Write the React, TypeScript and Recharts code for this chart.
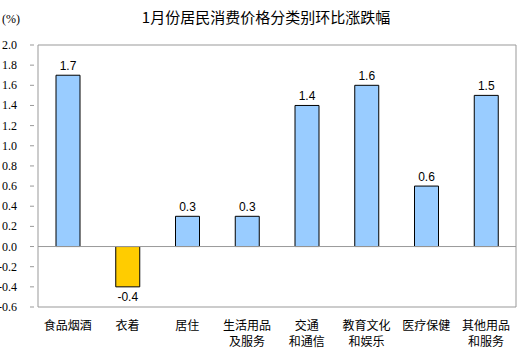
import React from "react";
import { BarChart, Bar, XAxis, YAxis, Cell, LabelList, ReferenceLine, ReferenceArea } from "recharts";

const categories = ["食品烟酒", "衣着", "居住", "生活用品\n及服务", "交通\n和通信", "教育文化\n和娱乐", "医疗保健", "其他用品\n和服务"];
const values = [1.7, -0.4, 0.3, 0.3, 1.4, 1.6, 0.6, 1.5];
const yTicks = [-0.6, -0.4, -0.2, 0.0, 0.2, 0.4, 0.6, 0.8, 1.0, 1.2, 1.4, 1.6, 1.8, 2.0];
const title = "1月份居民消费价格分类别环比涨跌幅";
const unit = "(%)";

const data = categories.map((c, i) => ({ name: c, value: values[i] }));

const SERIF = "Liberation Serif, Times New Roman, serif";
const SANS = "Liberation Sans, Arial, sans-serif";
const CJK = "Noto Sans CJK SC, sans-serif";

const YTick = (props: any) => {
  const { x, y, payload } = props;
  return (
    <g>
      <line x1={x} y1={y} x2={x + 4} y2={y} stroke="#999999" strokeWidth={1} />
      <text x={x - 13} y={y} dy={4} textAnchor="end" fontFamily={SERIF} fontSize={12} fill="#000">
        {Number(payload.value).toFixed(1)}
      </text>
    </g>
  );
};

const XTick = (props: any) => {
  const { x, y, payload } = props;
  const lines = String(payload.value).split("\n");
  return (
    <g>
      {lines.map((l: string, i: number) => (
        <text key={i} x={x} y={y + 15 + i * 16} textAnchor="middle" fontFamily={CJK} fontSize={12} fill="#000">
          {l}
        </text>
      ))}
    </g>
  );
};

const ValueLabel = (props: any) => {
  const { x, y, width, height, value } = props;
  const cx = x + width / 2;
  const neg = value < 0;
  const top = Math.min(y, y + height);
  const bottom = Math.max(y, y + height);
  const ty = neg ? bottom + 14 : top - 5;
  return (
    <text x={cx} y={ty} textAnchor="middle" fontFamily={SANS} fontSize={12} fill="#000">
      {Number(value).toFixed(1)}
    </text>
  );
};

export default function App() {
  return (
    <div style={{ position: "absolute", left: 0, top: 0, width: 532, height: 354, background: "#fff" }}>
      <svg width={532} height={354} style={{ position: "absolute", left: 0, top: 0 }}>
        <text x={2} y={23} fontFamily={SERIF} fontSize={12} fill="#000">{unit}</text>
        <text x={266} y={23} textAnchor="middle" fontFamily={CJK} fontSize={15} fill="#000">{title}</text>
      </svg>
      <div style={{ position: "absolute", left: 0, top: 0 }}>
        <BarChart width={532} height={354} data={data} margin={{ top: 45, right: 16, bottom: 0, left: 0 }} barCategoryGap="0%">
          <ReferenceArea y1={-0.6} y2={2.0} fill="none" stroke="#999999" strokeWidth={1} ifOverflow="visible" />
          <XAxis dataKey="name" axisLine={false} tickLine={false} height={47} interval={0} tick={<XTick />} />
          <YAxis type="number" domain={[-0.6, 2.0]} ticks={yTicks} width={38} axisLine={false} tickLine={false} tick={<YTick />} interval={0} />
          <ReferenceLine y={0} stroke="#999999" strokeWidth={1} />
          <Bar dataKey="value" barSize={24} stroke="#000" strokeWidth={1} isAnimationActive={false}>
            {data.map((d, i) => (
              <Cell key={i} fill={d.value < 0 ? "#FFCC00" : "#99CCFF"} />
            ))}
            <LabelList dataKey="value" content={<ValueLabel />} />
          </Bar>
        </BarChart>
      </div>
    </div>
  );
}
